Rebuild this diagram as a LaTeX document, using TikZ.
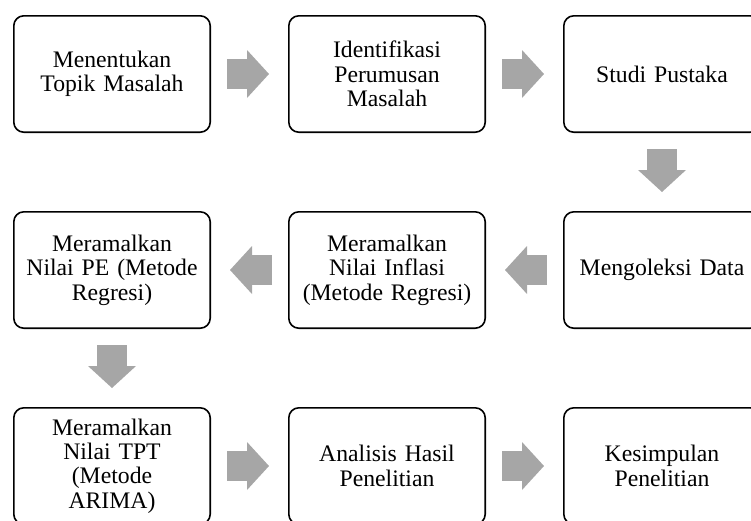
\documentclass[tikz,border=0pt]{standalone}
\usepackage{fontspec}
\setmainfont{Liberation Serif}
\usepackage{xcolor}
\usepackage{tikz}
\usetikzlibrary{arrows.meta, positioning}
\definecolor{flowgray}{HTML}{A6A6A6}
\newcommand{\boxfont}{\fontsize{23.7pt}{24.4pt}\selectfont}
\tikzset{stepbox/.style={rectangle,draw,line width=1.6pt,rounded corners=10pt,minimum width=196.4pt,minimum height=116.4pt,text width=184pt,align=center,inner sep=0pt,font=\boxfont},
         flow/.style={draw=flowgray,line width=30pt,-{Triangle[width=48pt,length=22pt,line width=0pt]},shorten <=16pt,shorten >=19pt}}

\begin{document}
\begin{tikzpicture}[x=1pt,y=1pt,node distance=78pt and 77pt]
    \clip (0,0) rectangle (751,-520);
    \node (topik) [stepbox] at (112,-74) {Menentukan\\Topik Masalah};
    \node (rumusan) [stepbox, right=of topik] {Identifikasi\\Perumusan\\Masalah};
    \node (pustaka) [stepbox, right=of rumusan] {Studi Pustaka};
    \node (koleksi) [stepbox, below=of pustaka] {Mengoleksi Data};
    \node (inflasi) [stepbox, left=of koleksi] {Meramalkan\\Nilai Inflasi\\(Metode Regresi)};
    \node (pe) [stepbox, left=of inflasi] {Meramalkan\\Nilai PE (Metode\\Regresi)};
    \node (tpt) [stepbox, below=of pe] {Meramalkan\\Nilai TPT\\(Metode\\ARIMA)};
    \node (analisis) [stepbox, right=of tpt] {Analisis Hasil\\Penelitian};
    \node (simpulan) [stepbox, right=of analisis] {Kesimpulan\\Penelitian};
    \foreach \i/\j in {topik/rumusan,rumusan/pustaka,pustaka/koleksi,koleksi/inflasi,inflasi/pe,pe/tpt,tpt/analisis,analisis/simpulan} {\draw[flow] (\i) -- (\j);}
  \end{tikzpicture}
\end{document}
